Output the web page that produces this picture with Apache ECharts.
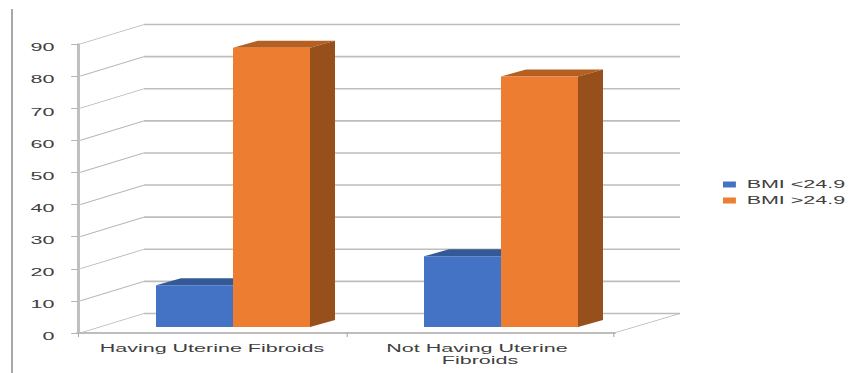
<!DOCTYPE html>
<html>
<head>
<meta charset="utf-8">
<style>
  html, body { margin: 0; padding: 0; background: #fff; overflow: hidden; }
  /* The chart is laid out narrow and widened as a whole, so its type and marks share one wide aspect. */
  #chart { width: 396.28px; height: 373px; transform: scaleX(2.15); transform-origin: 0 0; }
</style>
<script src="https://cdn.jsdelivr.net/npm/echarts@6/dist/echarts.min.js"></script>
</head>
<body>
<div id="chart"></div>
<script>
const categories = ['Having Uterine Fibroids', 'Not Having Uterine Fibroids'];
const seriesNames = ['BMI <24.9', 'BMI >24.9'];
const bmiUnder = [13, 22];
const bmiOver = [87, 78];
const yTicks = [0, 10, 20, 30, 40, 50, 60, 70, 80, 90];

const SX = 2.15;                    // horizontal widening of the whole chart
const WALL = { dx: 66 / SX, dy: -19.5 };   // depth of the chart box
const BAR_PLANE = { dx: 21 / SX, dy: -6 }; // where bars stand inside the box
const BAR_DEPTH = { dx: 25 / SX, dy: -7 };
const BAR_BAND = 0.2873;            // bar width as a share of a category band

function wallLines(params, api) {
  const v = api.value(0);
  const y = api.coord([0, v])[1];
  const box = params.coordSys;
  const x0 = box.x, x1 = box.x + box.width;
  const slant = { stroke: '#b5b5b5', lineWidth: 0.8 };
  const children = [
    { type: 'line', shape: { x1: x0 + 1, y1: y, x2: x0 + WALL.dx, y2: y + WALL.dy }, style: slant },
    { type: 'line', shape: { x1: x0 + WALL.dx, y1: y + WALL.dy, x2: x1 + WALL.dx, y2: y + WALL.dy },
      style: { stroke: '#bdbdbd', lineWidth: 1.6 } }
  ];
  if (v === 0) {
    children.push({ type: 'line', shape: { x1: x1, y1: y, x2: x1 + WALL.dx, y2: y + WALL.dy }, style: slant });
  }
  return { type: 'group', children };
}

// Draws one 3D column: front face, lid and right side, from the axis scales.
function columnRenderer(slot, sideColor, topColor) {
  return function (params, api) {
    const base = api.coord([api.value(0), 0]);
    const top = api.coord([api.value(0), api.value(1)]);
    const w = api.size([1, 0])[0] * BAR_BAND;
    const left = base[0] + BAR_PLANE.dx + slot * w;
    const right = left + w;
    const yB = base[1] + BAR_PLANE.dy;
    const yT = top[1] + BAR_PLANE.dy;
    const d = BAR_DEPTH;
    return {
      type: 'group',
      children: [
        { type: 'polygon', shape: { points: [[left, yT], [left + d.dx, yT + d.dy], [right + d.dx, yT + d.dy], [right, yT]] },
          style: { fill: topColor } },
        { type: 'polygon', shape: { points: [[right, yT], [right + d.dx, yT + d.dy], [right + d.dx, yB + d.dy], [right, yB]] },
          style: { fill: sideColor } },
        { type: 'rect', shape: { x: left, y: yT, width: w, height: yB - yT },
          style: { fill: api.visual('color') } }
      ]
    };
  };
}

const chart = echarts.init(document.getElementById('chart'), null, { renderer: 'svg' });
chart.setOption({
  animation: false,
  backgroundColor: '#fff',
  textStyle: { fontFamily: '"Liberation Sans", Arial, sans-serif' },
  grid: { left: 78 / SX, width: 536 / SX, top: 44, height: 289 },
  legend: {
    orient: 'vertical',
    left: 723 / SX,
    top: 179.5,
    padding: 0,
    itemWidth: 6,
    itemHeight: 6,
    itemGap: 6,
    icon: 'rect',
    textStyle: { color: '#404040', fontSize: 10 },
    data: seriesNames
  },
  xAxis: {
    type: 'category',
    data: categories,
    axisLine: { lineStyle: { color: '#bdbdbd', width: 2 } },
    axisTick: { show: true, length: 4, lineStyle: { color: '#a6a6a6', width: 0.5 } },
    axisLabel: { color: '#404040', fontSize: 10, margin: 10, lineHeight: 12, width: 112, overflow: 'break', interval: 0 }
  },
  yAxis: {
    type: 'value',
    min: 0,
    max: 90,
    interval: 10,
    splitLine: { show: false },
    axisLine: { show: true, lineStyle: { color: '#bfbfbf', width: 1.4 } },
    axisTick: { show: true, length: 3.2, lineStyle: { color: '#b5b5b5', width: 1 } },
    axisLabel: { color: '#404040', fontSize: 10, margin: 11, verticalAlign: 'top', lineHeight: 8 }
  },
  graphic: [
    { type: 'line', shape: { x1: 12 / SX, y1: 9, x2: 12 / SX, y2: 373 },
      style: { stroke: '#a6a6a6', lineWidth: 0.9 } }
  ],
  series: [
    {
      type: 'custom', name: 'wall', silent: true, z: 1,
      data: yTicks.map(v => [v]),
      encode: { y: 0 },
      renderItem: wallLines
    },
    {
      type: 'custom', name: seriesNames[0], z: 2,
      itemStyle: { color: '#4472c4' },
      data: bmiUnder.map((v, i) => [i, v]),
      encode: { x: 0, y: 1 },
      renderItem: columnRenderer(-1, '#2f5597', '#335a96')
    },
    {
      type: 'custom', name: seriesNames[1], z: 3,
      itemStyle: { color: '#ed7d31' },
      data: bmiOver.map((v, i) => [i, v]),
      encode: { x: 0, y: 1 },
      renderItem: columnRenderer(0, '#974f1c', '#b55f20')
    }
  ]
});
</script>
</body>
</html>
